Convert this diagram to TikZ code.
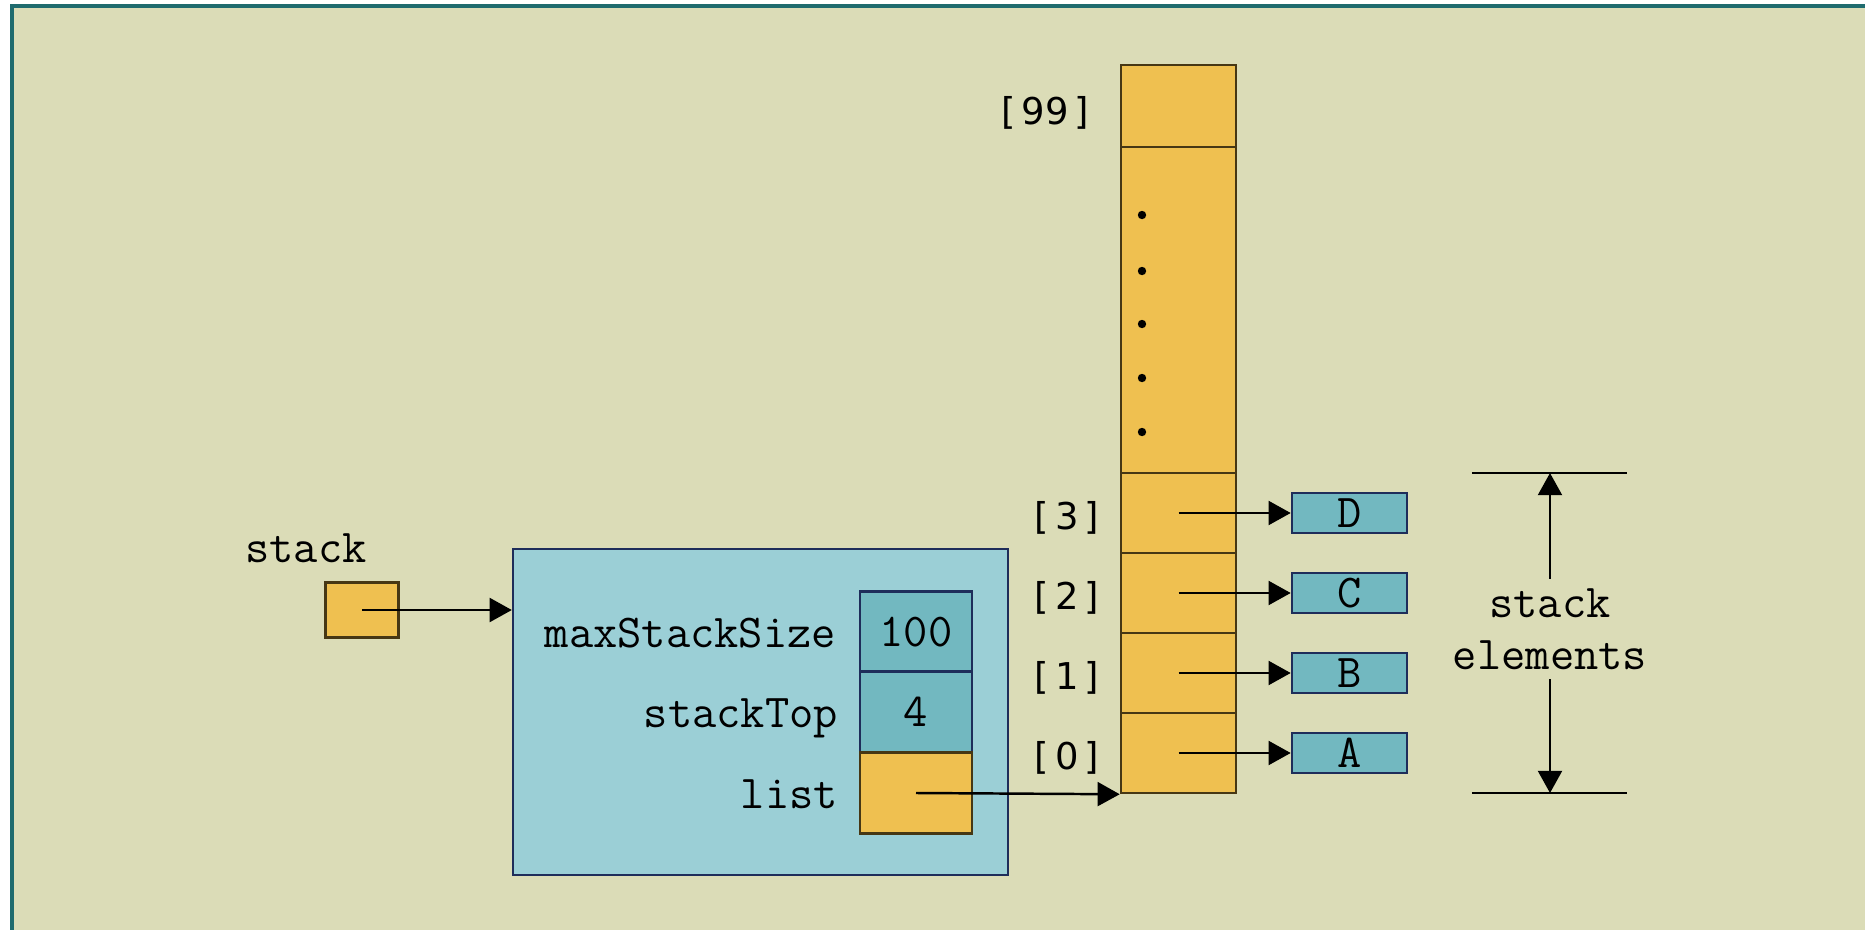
\documentclass[tikz,border=0pt]{standalone}
\usepackage{fontspec}
\newfontfamily\idxfont{DejaVu Sans}
\usepackage{tikz}
\usetikzlibrary{arrows.meta}
\usetikzlibrary{positioning}
\definecolor{paper}{RGB}{219,220,183}
\definecolor{frameline}{RGB}{31,107,110}
\definecolor{slot}{RGB}{239,192,80}
\definecolor{slotline}{RGB}{70,55,20}
\definecolor{record}{RGB}{155,207,214}
\definecolor{field}{RGB}{114,184,192}
\definecolor{fieldline}{RGB}{30,45,90}
\tikzset{>={Triangle[length=6.3pt,width=6.8pt]}}
\tikzstyle{code} = [font=\ttfamily\fontsize{13.4}{14.8}\selectfont]
\tikzstyle{fieldname} = [code, anchor=base east, inner xsep=0pt, xshift=-0.2cm, yshift=-0.15cm]
\tikzstyle{idx} = [font=\idxfont\fontsize{10.5}{12}\selectfont, anchor=east, inner sep=0pt]
\tikzstyle{slotbox} = [draw=slotline, fill=slot, line width=0.7pt, inner sep=0pt, minimum width=1.15cm]
\tikzstyle{fieldbox} = [code, draw=fieldline, fill=field, line width=0.7pt, inner sep=0pt, minimum width=1.12cm, minimum height=0.81cm]
\tikzstyle{item} = [code, draw=fieldline, fill=field, line width=0.7pt, inner sep=0pt, minimum width=1.15cm, minimum height=0.4cm]
\tikzstyle{ptr} = [->, line width=0.7pt]

\begin{document}
\begin{tikzpicture}[x=0.01cm, y=-0.01cm]
\useasboundingbox (0,0) rectangle (1865,930);
\fill [paper] (12,6) rectangle (1865,930);
\draw [frameline, line width=1.4pt] (12,930) -- (12,6) -- (1865,6);

% the stack variable and its record
\node [code] (stacklbl) at (306,548) {stack};
\node [slotbox, minimum width=0.73cm, minimum height=0.55cm] (stack) at (362,610) {};
\node [draw=fieldline, fill=record, line width=0.6pt, inner sep=0pt, minimum width=4.95cm, minimum height=3.26cm] (rec) at (760.5,712) {};
\node [fieldbox] (maxsize) at (916,632) {100};
\node [fieldbox] (top) at (916,712) {4};
\node [slotbox, minimum width=1.12cm, minimum height=0.81cm] (list) at (916,793) {};
\node [fieldname, xshift=-0.02cm] (maxsizelbl) at (maxsize.west) {maxStackSize};
\node [fieldname] (toplbl) at (top.west) {stackTop};
\node [fieldname] (listlbl) at (list.west) {list};
\draw [ptr] (stack.center) -- (stack.center -| rec.west);

% the array
\node [slotbox, minimum height=0.82cm] (a99) at (1178.5,106) {};
\node [slotbox, minimum height=3.26cm] (dots) at (1178.5,310) {};
\node [idx] (i99) at (1090,113) {[\,99\,]};
\foreach \y in {215,271,324,378,432}
  \fill (1142,\y) circle (0.042cm);
\foreach \i/\v/\y in {3/D/513, 2/C/593, 1/B/673, 0/A/753} {
  \node [slotbox, minimum height=0.8cm] (a\i) at (1178.5,\y) {};
  \node [idx] (i\i) at (1100,\y+5) {[\,\i\,]};
  \node [item] (e\i) at (1349.5,\y) {\v};
  \draw [ptr] (a\i.center) -- (e\i.west);
}
\draw [ptr] (list.center) -- (a0.south west);

% stack elements span
\node [code, align=center, inner ysep=2.5pt] (span) at (1550,629) {stack\\elements};
\coordinate (toptick) at (1550,473);
\coordinate (bottick) at (1550,793);
\draw [line width=0.7pt] ([xshift=-0.78cm]toptick) -- ([xshift=0.77cm]toptick);
\draw [line width=0.7pt] ([xshift=-0.78cm]bottick) -- ([xshift=0.77cm]bottick);
\draw [ptr] (span.north) -- (toptick);
\draw [ptr] (span.south) -- (bottick);
\end{tikzpicture}
\end{document}
